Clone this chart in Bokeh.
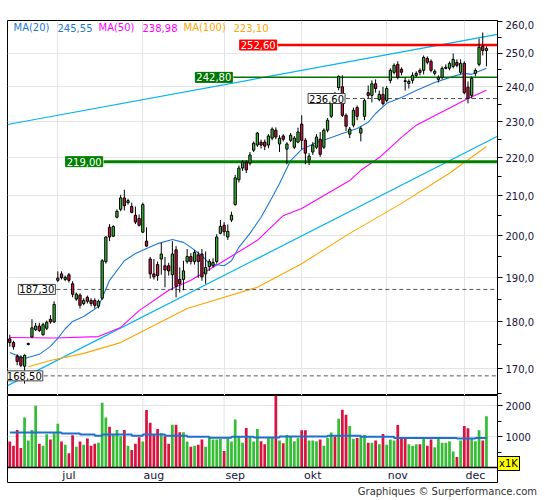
import math
from bokeh.plotting import figure
from bokeh.models import (Range1d, FixedTicker, CustomJSTickFormatter, Label, Span, Grid,
                          ColumnDataSource, Spacer, Div)
from bokeh.layouts import column
from bokeh.embed import file_html
from bokeh.resources import INLINE
from bokeh.core.properties import value

# ------------------------------------------------------------------ data
opens = [176.3, 175.5, 172.6, 172.4, 170.5, 175.1, 176.7, 178.3, 179.1, 177.2,
         178.6, 180.6, 180.0, 189.4, 190.9, 189.6, 190.7, 188.6, 185.1, 186.0,
         184.1, 185.5, 184.8, 184.8, 183.5, 185.3, 193.8, 202.1, 199.9, 204.6,
         206.6, 209.5, 208.3, 207.3, 205.1, 204.3, 200.9, 198.7, 194.4, 190.9,
         193.1, 194.4, 192.8, 192.8, 190.7, 196.6, 189.6, 189.6, 193.8, 195.0,
         193.8, 195.4, 195.6, 190.9, 192.6, 192.8, 193.8, 200.6, 202.6, 199.7,
         203.9, 207.8, 214.2, 217.3, 218.9, 218.6, 222.1, 223.5, 224.3, 224.3,
         223.5, 225.4, 227.6, 223.8, 226.0, 222.4, 224.8, 222.9, 224.3, 229.3,
         224.8, 219.4, 221.6, 222.9, 225.1, 222.9, 227.6, 231.5, 237.5, 239.8,
         240.0, 231.8, 226.5, 229.0, 234.0, 226.8, 231.5, 238.3, 237.5, 240.9,
         236.3, 237.8, 236.0, 241.9, 244.3, 246.7, 245.2, 241.8, 241.0, 241.9,
         243.4, 244.9, 244.9, 248.5, 247.6, 244.0, 242.2, 242.8, 245.5, 245.5,
         246.1, 247.3, 244.3, 247.0, 239.9, 237.5, 244.0, 246.7, 252.2, 250.9]
highs = [177.2, 175.9, 173.0, 172.8, 173.0, 175.5, 180.6, 179.8, 179.8, 179.8,
         180.3, 181.5, 184.6, 191.5, 191.5, 190.5, 191.1, 189.2, 186.6, 186.4,
         185.3, 185.9, 185.3, 185.3, 185.0, 194.4, 199.9, 202.9, 202.6, 206.6,
         210.3, 211.6, 209.3, 208.3, 207.3, 205.3, 208.3, 202.1, 194.9, 194.4,
         193.8, 198.3, 194.9, 193.5, 198.7, 197.5, 192.4, 194.0, 196.8, 195.8,
         196.6, 196.2, 196.8, 196.2, 194.4, 194.6, 200.4, 203.9, 203.4, 202.8,
         206.0, 215.5, 218.0, 219.4, 219.4, 221.6, 224.5, 227.1, 225.0, 225.0,
         226.5, 228.4, 228.4, 226.2, 226.5, 224.3, 226.8, 226.0, 228.3, 231.8,
         225.4, 221.3, 224.3, 226.5, 227.1, 228.1, 231.0, 236.6, 238.5, 243.4,
         243.4, 232.3, 228.5, 234.0, 234.6, 228.7, 236.6, 240.4, 241.9, 242.2,
         238.9, 240.0, 240.2, 245.5, 247.0, 247.6, 245.8, 242.8, 242.2, 244.3,
         244.6, 245.5, 249.4, 249.1, 248.2, 245.2, 243.4, 246.1, 246.7, 247.6,
         250.0, 248.2, 248.2, 247.6, 241.6, 243.1, 245.5, 254.6, 256.5, 252.2]
lows = [174.6, 174.0, 170.7, 170.3, 166.9, 174.9, 176.5, 178.0, 177.8, 177.0,
        178.2, 179.6, 179.8, 189.0, 189.6, 189.2, 188.9, 185.5, 184.7, 183.0,
        183.7, 184.1, 183.5, 183.0, 183.0, 184.9, 193.3, 198.7, 199.7, 204.3,
        206.1, 206.3, 207.8, 205.6, 202.9, 202.3, 200.7, 197.3, 189.8, 189.6,
        189.3, 190.7, 187.8, 190.5, 187.1, 185.5, 186.6, 187.1, 193.3, 193.1,
        193.1, 190.0, 189.3, 188.6, 191.6, 192.4, 193.3, 200.4, 200.0, 199.0,
        203.4, 207.5, 213.5, 216.5, 216.0, 218.0, 221.6, 223.0, 222.6, 222.1,
        222.6, 224.8, 225.1, 221.6, 224.5, 218.3, 224.3, 222.4, 224.0, 222.4,
        218.3, 218.1, 220.8, 222.4, 220.3, 222.4, 227.0, 231.0, 235.0, 239.0,
        231.3, 227.4, 225.4, 228.4, 230.4, 224.5, 230.4, 236.6, 235.5, 238.3,
        235.8, 234.6, 235.5, 241.0, 243.7, 242.2, 243.4, 238.9, 239.5, 241.0,
        242.8, 243.4, 243.7, 246.7, 244.3, 243.4, 241.3, 242.2, 245.2, 244.9,
        245.5, 245.8, 243.7, 237.8, 235.2, 236.6, 243.1, 246.1, 249.4, 246.1]
closes = [175.5, 174.6, 171.5, 170.7, 172.8, 175.3, 178.7, 179.1, 178.1, 179.4,
          179.9, 180.0, 183.9, 189.9, 190.0, 190.1, 189.4, 186.2, 186.2, 183.7,
          184.8, 184.6, 184.1, 183.7, 184.6, 194.0, 199.7, 199.7, 202.3, 206.1,
          209.5, 207.5, 208.8, 205.8, 203.4, 202.6, 207.8, 197.5, 190.9, 190.2,
          190.5, 195.6, 191.8, 191.6, 195.6, 188.0, 188.6, 191.6, 195.0, 193.8,
          196.0, 193.8, 190.2, 192.4, 193.8, 193.6, 199.7, 202.3, 201.0, 201.1,
          205.1, 214.7, 217.3, 218.9, 216.8, 220.8, 224.0, 226.8, 223.5, 223.2,
          226.0, 227.9, 225.7, 225.4, 225.1, 223.8, 226.2, 225.4, 227.1, 224.8,
          221.3, 220.5, 223.5, 225.7, 221.0, 227.6, 230.4, 235.5, 236.0, 243.1,
          231.8, 228.7, 227.9, 233.2, 231.5, 228.1, 236.0, 237.5, 240.9, 239.5,
          237.8, 235.1, 239.5, 244.9, 246.4, 242.8, 244.3, 241.6, 241.6, 243.4,
          244.0, 244.3, 248.8, 247.3, 244.9, 244.6, 242.8, 245.5, 245.8, 247.0,
          248.2, 246.4, 247.0, 238.3, 236.6, 242.5, 244.9, 251.9, 250.9, 251.5]
volumes = [836, 700, 1209, 633, 1616, 870, 1209, 1989, 768, 700,
           1073, 904, 1107, 1412, 836, 734, 463, 1040, 667, 836,
           734, 938, 700, 768, 802, 2090, 1616, 1311, 1073, 1209,
           1006, 1209, 700, 565, 768, 972, 836, 1853, 1446, 1073,
           1243, 1107, 1006, 768, 1379, 1379, 1141, 1141, 836, 667,
           700, 734, 904, 667, 972, 900, 904, 920, 531, 972,
           836, 1548, 1006, 802, 1277, 1006, 836, 1243, 850, 750,
           970, 970, 2450, 870, 780, 1050, 1000, 850, 950, 1200,
           1200, 870, 870, 850, 900, 700, 950, 1130, 1000, 1570,
           1860, 1700, 1340, 920, 950, 1000, 1050, 800, 800, 870,
           750, 1080, 730, 900, 870, 1370, 920, 950, 750, 700,
           750, 750, 950, 700, 900, 650, 950, 800, 800, 850,
           520, 340, 870, 1340, 1270, 920, 850, 1200, 870, 1650]
day = list(range(len(closes)))

month_names = ["jul", "aug", "sep", "okt", "nov", "dec"]
month_starts = [13, 36, 58, 79, 102, 123]

ma20_day = [0, 4, 8, 11, 13, 15, 17, 20, 22, 24, 27, 31, 34, 37, 40, 44, 47, 49, 52, 54,
            58, 60, 62, 65, 68, 71, 73, 76, 79, 83, 87, 90, 94, 97, 99, 102, 106, 110,
            115, 120, 123, 125, 127, 129]
ma20_val = [173.4, 172.1, 173.0, 174.7, 176.4, 178.5, 180.1, 181.2, 182.3, 183.4, 189.4,
            194.0, 195.7, 196.9, 198.1, 199.1, 198.4, 197.2, 195.2, 193.3, 192.8, 194.0,
            197.2, 200.6, 204.6, 209.6, 213.2, 219.3, 222.3, 224.2, 225.6, 226.7, 228.1,
            229.8, 232.3, 235.2, 236.9, 238.9, 241.3, 243.1, 244.0, 243.7, 244.6, 245.55]
ma50_day = [0, 12, 24, 30, 35, 43, 49, 58, 67, 74, 79, 92, 95, 100, 106, 110, 124, 129]
ma50_val = [176.6, 176.5, 176.8, 178.8, 182.5, 187.1, 189.4, 194.0, 198.9, 205.0, 206.8,
            214.0, 216.7, 220.1, 225.6, 229.0, 236.6, 238.98]
ma100_day = [5, 11, 20, 30, 48, 67, 79, 92, 106, 119, 129]
ma100_val = [170.4, 171.7, 173.2, 175.5, 183.0, 187.8, 193.3, 200.6, 208.1, 215.9, 223.10]
vma_day = [0, 14, 19, 23, 25, 33, 36, 42, 48, 54, 60, 66, 73, 86, 95, 104, 121, 126, 129]
vma_val = [1130, 1096, 1062, 1028, 1062, 1028, 1062, 1028, 994, 960, 994, 967, 1000,
           1022, 989, 955, 933, 955, 955]

trend_day = [-0.62, 131.99]
trend_upper = [229.2, 255.9]
trend_lower = [166.5, 225.9]

level_val = [252.60, 242.80, 236.60, 219.00, 187.30, 168.50]
level_from = [72.5, 60.5, 91.0, 25.4, 12.6, 9.2]

legend_names = ["MA(20)", "MA(50)", "MA(100)"]
legend_last = [245.55, 238.98, 223.10]

# ------------------------------------------------------------------ layout helpers
X0, X1 = -0.62, 131.99          # day range over the 490 px frame (page x 7..497)
Y0, Y1 = 164.5, 260.3           # price range (log), page y 20..395
V0, V1 = -484, 2323             # volume range, page y 395..482
FONT = "DejaVu Sans"
RED, GREEN = "#d9123f", "#36bd36"
TXT = "#14143a"


def dx(px):   # page x -> day
    return X0 + (px - 7) / 490 * (X1 - X0)


def py(pyy):  # page y -> price
    return math.exp(math.log(Y1) - (pyy - 20) / 375 * (math.log(Y1) - math.log(Y0)))


def vy(pyy):  # page y -> volume
    return V1 - (pyy - 395) / 87 * (V1 - V0)


def fmt(v, d=2):
    return f"{v:.{d}f}".replace(".", ",")


colors = [GREEN if c >= o else RED for o, c in zip(opens, closes)]
src = ColumnDataSource(dict(day=day, open=opens, high=highs, low=lows, close=closes,
                            top=[max(o, c) for o, c in zip(opens, closes)],
                            bottom=[min(o, c) for o, c in zip(opens, closes)],
                            color=colors, volume=volumes))

# ------------------------------------------------------------------ main panel
p = figure(width=545, height=375, x_range=Range1d(X0, X1), y_range=Range1d(Y0, Y1),
           y_axis_type="log", y_axis_location="right", x_axis_location=None,
           output_backend="svg", toolbar_location=None,
           min_border_left=7, min_border_right=48, min_border_top=0, min_border_bottom=0)
p.outline_line_color = "black"
p.outline_line_alpha = 1.0
p.background_fill_color = "white"
p.border_fill_color = "white"
p.grid.visible = False
p.add_layout(Grid(dimension=0, ticker=FixedTicker(ticks=month_starts),
                  grid_line_color="#e4e4e4", grid_line_width=1))
major = [170, 180, 190, 200, 210, 220, 230, 240, 250, 260]
p.add_layout(Grid(dimension=1, ticker=FixedTicker(ticks=major[:-1]),
                  grid_line_color="#e4e4e4", grid_line_width=1))

yax = p.yaxis[0]
yax.ticker = FixedTicker(ticks=major, minor_ticks=[165, 175, 185, 195, 205, 215, 225, 235, 245, 255])
yax.formatter = CustomJSTickFormatter(code="return tick.toFixed(1).replace('.', ',');")
yax.major_label_text_font = FONT
yax.major_label_text_font_size = "10px"
yax.major_label_text_color = TXT
yax.axis_line_color = "black"
yax.major_tick_line_color = "black"
yax.minor_tick_line_color = "black"
yax.major_tick_out = 5
yax.major_tick_in = 0
yax.minor_tick_out = 4
yax.minor_tick_in = 0
yax.major_label_standoff = 3

# trend lines and moving averages
p.line(trend_day, trend_upper, line_color="#00b4f0", line_width=1.2)
p.line(trend_day, trend_lower, line_color="#00b4f0", line_width=1.2)
p.line(ma100_day, ma100_val, line_color="#ffa500", line_width=1.1)
p.line(ma50_day, ma50_val, line_color="#ff00ff", line_width=1.1)
p.line(ma20_day, ma20_val, line_color="#1e78d8", line_width=1.1)

# horizontal levels
lvl_color = ["#ff0000", "#007400", "#555555", "#008000", "#555555", "#555555"]
lvl_width = [2.5, 1.5, 1, 3, 1, 1]
lvl_dash = ["solid", "solid", "4 3", "solid", "4 3", "4 3"]
for v, f, c, w, d in zip(level_val, level_from, lvl_color, lvl_width, lvl_dash):
    p.segment(x0=[f], y0=[v], x1=[X1], y1=[v], line_color=c, line_width=w, line_dash=d)

# candles
p.segment(x0="day", y0="high", x1="day", y1="low", source=src, line_color="black", line_width=1)
p.vbar(x="day", width=0.62, top="top", bottom="bottom", fill_color="color",
       line_color="black", line_width=1, source=src)

for v, f, c, d in zip(level_val, level_from, lvl_color, lvl_dash):
    solid = d == "solid"
    p.add_layout(Label(x=f, y=v, text=fmt(v), text_align="right", text_baseline="middle",
                       x_offset=-1, text_font=FONT, text_font_size="10px",
                       text_color="white" if solid else "black",
                       background_fill_color=c if solid else "white",
                       border_line_color=c if solid else "#444444", border_line_width=1,
                       padding=1))

leg_colors = ["#1e78d8", "#ff00ff", "#ffa500"]
leg_x = [(13, 57), (98, 142), (183, 233)]
for name, last, col, (xa, xb) in zip(legend_names, legend_last, leg_colors, leg_x):
    for txt, xx in ((name, xa), (fmt(last), xb)):
        p.add_layout(Label(x=dx(xx), y=py(27), text=txt, text_align="left",
                           text_baseline="middle", text_font=FONT, text_font_size="10px",
                           text_color=col))

# ------------------------------------------------------------------ volume panel
pv = figure(width=545, height=88, x_range=p.x_range, y_range=Range1d(V0, V1),
            y_axis_location="right", x_axis_location=None,
            output_backend="svg", toolbar_location=None,
            min_border_left=7, min_border_right=48, min_border_top=0, min_border_bottom=1)
pv.outline_line_color = "black"
pv.outline_line_alpha = 1.0
pv.grid.visible = False
pv.add_layout(Grid(dimension=1, ticker=FixedTicker(ticks=[1000, 2000]),
                   grid_line_color="#e4e4e4", grid_line_width=1))
pv.segment(x0=month_starts, y0=[0] * len(month_starts), x1=month_starts,
           y1=[V1] * len(month_starts), line_color="#e4e4e4", line_width=1)

vax = pv.yaxis[0]
vax.ticker = FixedTicker(ticks=[1000, 2000], minor_ticks=[500, 1500])
vax.major_label_text_font = FONT
vax.major_label_text_font_size = "10px"
vax.major_label_text_color = TXT
vax.axis_line_color = "black"
vax.major_tick_out = 5
vax.major_tick_in = 0
vax.minor_tick_out = 4
vax.minor_tick_in = 0
vax.major_label_standoff = 3

pv.vbar(x="day", width=0.74, top="volume", bottom=0, fill_color="color",
        line_color=None, source=src)
pv.step(vma_day, vma_val, mode="after", line_color="#1e6fd0", line_width=2)
pv.add_layout(Span(location=0, dimension="width", line_color="black", line_width=1.5))

pv.text(x=[m + 3 for m in month_starts], y=[vy(475)] * len(month_starts), text=month_names,
        text_align="center", text_baseline="middle", text_font=value(FONT),
        text_font_size="11px", text_color=TXT)

# footer line; the "x1K" volume-unit badge sits just above it, at the right of the volume panel
footer_html = (
    '<div style="position:relative;width:545px;height:17px;font-family:\'DejaVu Sans\';'
    'font-size:10px;">'
    '<span style="position:absolute;left:497px;top:-27px;background:#ffff00;'
    'border:1px solid #000;color:#000;padding:0 1px;line-height:13px;">x1K</span>'
    '<span style="position:absolute;right:8px;top:1px;color:#333333;line-height:15px;'
    'white-space:nowrap;">Graphiques \u00a9 Surperformance.com</span>'
    '</div>')
footer = Div(text=footer_html, width=545, height=17,
             styles={"margin": "0", "padding": "0", "overflow": "visible"})

layout = column(Spacer(width=545, height=20), p, pv, footer)
open("out.html", "w").write(file_html(layout, INLINE))
